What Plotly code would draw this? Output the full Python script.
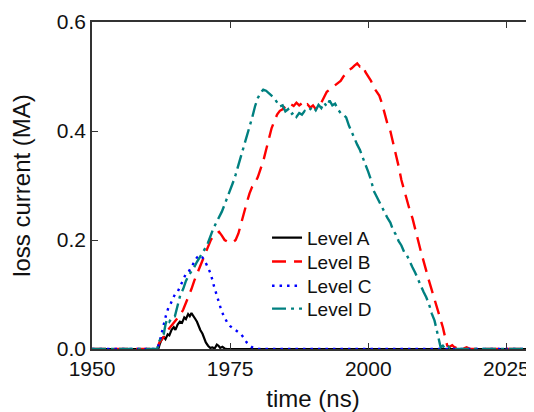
import plotly.graph_objects as go

# ---- data ----
t_a = [1950, 1962, 1962.3, 1962.7, 1963, 1963.3, 1963.7, 1964, 1964.4, 1964.8, 1965.1, 1965.5, 1965.9,
       1966.3, 1966.7, 1967, 1967.4, 1967.7, 1968, 1968.3, 1968.7, 1969, 1969.3, 1969.6, 1970, 1970.3,
       1970.6, 1971, 1971.4, 1971.8, 1972.2, 1972.6, 1972.9, 1973.2, 1973.6, 1974, 1974.4, 2030]
i_a = [0, 0, 0.010, 0.020, 0.022, 0.018, 0.027, 0.025, 0.035, 0.040, 0.035, 0.045, 0.050,
       0.048, 0.058, 0.055, 0.064, 0.060, 0.066, 0.062, 0.055, 0.050, 0.042, 0.035, 0.028, 0.020,
       0.012, 0.006, 0.002, 0.003, 0.001, 0.008, 0.006, 0.002, 0.004, 0.001, 0, 0]

t_b = [1950, 1961.8, 1962.2, 1962.6, 1963, 1963.5, 1964, 1964.5, 1965, 1965.5, 1966, 1966.5, 1967,
       1967.5, 1968, 1968.5, 1969, 1969.5, 1970, 1970.5, 1971, 1971.5, 1972, 1972.5, 1973, 1973.5,
       1974, 1974.5, 1975, 1975.5, 1976, 1976.5, 1977, 1977.5, 1978, 1978.5, 1979, 1979.5, 1980,
       1980.5, 1981, 1981.5, 1982, 1982.5, 1983, 1983.5, 1984, 1984.5, 1985, 1985.5, 1986, 1986.5,
       1987, 1987.5, 1988, 1988.5, 1989, 1989.5, 1990, 1990.5, 1991, 1991.5, 1992, 1992.5, 1993,
       1993.5, 1994, 1994.5, 1995, 1995.5, 1996, 1996.5, 1997, 1997.5, 1998, 1998.5, 1999, 1999.5,
       2000, 2000.5, 2001, 2001.5, 2002, 2002.5, 2003, 2003.5, 2004, 2004.5, 2005, 2005.5, 2006,
       2006.5, 2007, 2007.5, 2008, 2008.5, 2009, 2009.5, 2010, 2010.5, 2011, 2011.5, 2012, 2012.5,
       2013, 2013.5, 2014, 2014.3, 2014.7, 2015.2, 2015.7, 2016.3, 2017, 2017.8, 2018.5, 2030]
i_b = [0, 0, 0.012, 0.018, 0.022, 0.032, 0.038, 0.045, 0.052, 0.058, 0.063, 0.072, 0.085,
       0.095, 0.110, 0.125, 0.138, 0.150, 0.162, 0.175, 0.190, 0.200, 0.208, 0.212, 0.215, 0.208,
       0.200, 0.197, 0.198, 0.196, 0.200, 0.212, 0.232, 0.250, 0.268, 0.285, 0.298, 0.305, 0.315,
       0.330, 0.345, 0.365, 0.385, 0.405, 0.418, 0.430, 0.437, 0.440, 0.445, 0.443, 0.449, 0.446,
       0.452, 0.447, 0.451, 0.445, 0.449, 0.443, 0.447, 0.440, 0.448, 0.452, 0.462, 0.472, 0.476,
       0.480, 0.483, 0.488, 0.492, 0.500, 0.505, 0.512, 0.515, 0.520, 0.524, 0.518, 0.520, 0.508,
       0.500, 0.492, 0.480, 0.472, 0.465, 0.450, 0.430, 0.412, 0.400, 0.380, 0.360, 0.335, 0.310,
       0.290, 0.272, 0.255, 0.240, 0.222, 0.200, 0.180, 0.160, 0.145, 0.125, 0.108, 0.092, 0.075,
       0.060, 0.040, 0.018, 0.006, 0.004, 0.007, 0.002, 0.005, 0.0, 0.003, 0, 0]

t_c = [1950, 1961.8, 1962.2, 1962.6, 1963, 1963.4, 1963.8, 1964.2, 1964.6, 1965, 1965.5, 1966, 1966.5,
       1967, 1967.5, 1968, 1968.5, 1969, 1969.5, 1970, 1970.5, 1971, 1971.5, 1972, 1972.5, 1973,
       1973.5, 1974, 1974.5, 1975, 1975.5, 1976, 1976.5, 1977, 1977.5, 1978, 1978.5, 1979, 1979.5,
       1980, 2030]
i_c = [0, 0, 0.012, 0.030, 0.045, 0.062, 0.075, 0.082, 0.092, 0.100, 0.105, 0.115, 0.128,
       0.138, 0.142, 0.150, 0.160, 0.168, 0.172, 0.168, 0.160, 0.150, 0.138, 0.118, 0.100, 0.085,
       0.068, 0.058, 0.048, 0.042, 0.038, 0.034, 0.030, 0.027, 0.020, 0.012, 0.007, 0.003, 0.001,
       0, 0]

t_d = [1950, 1961.8, 1962.2, 1962.6, 1963, 1963.3, 1963.6, 1964, 1964.5, 1965, 1965.5, 1966, 1966.5,
       1967, 1967.5, 1968, 1968.5, 1969, 1969.5, 1970, 1970.5, 1971, 1971.5, 1972, 1972.5, 1973,
       1973.5, 1974, 1974.5, 1975, 1975.5, 1976, 1976.5, 1977, 1977.5, 1978, 1978.5, 1979, 1979.5,
       1980, 1980.5, 1981, 1981.5, 1982, 1982.5, 1983, 1983.5, 1984, 1984.5, 1985, 1985.5, 1986,
       1986.5, 1987, 1987.5, 1988, 1988.5, 1989, 1989.5, 1990, 1990.5, 1991, 1991.5, 1992, 1992.5,
       1993, 1993.5, 1994, 1994.5, 1995, 1995.5, 1996, 1996.5, 1997, 1997.5, 1998, 1998.5, 1999,
       1999.5, 2000, 2000.5, 2001, 2001.5, 2002, 2002.5, 2003, 2003.5, 2004, 2004.5, 2005, 2005.5,
       2006, 2006.5, 2007, 2007.5, 2008, 2008.5, 2009, 2009.5, 2010, 2010.5, 2011, 2011.5, 2012,
       2012.5, 2012.8, 2013.1, 2013.5, 2014, 2014.5, 2015, 2030]
i_d = [0, 0, 0.015, 0.022, 0.028, 0.045, 0.055, 0.050, 0.058, 0.060, 0.080, 0.100, 0.110,
       0.125, 0.135, 0.142, 0.150, 0.160, 0.168, 0.175, 0.185, 0.195, 0.210, 0.222, 0.232, 0.242,
       0.252, 0.265, 0.278, 0.290, 0.305, 0.320, 0.337, 0.355, 0.373, 0.390, 0.408, 0.425, 0.445,
       0.460, 0.470, 0.476, 0.474, 0.470, 0.465, 0.460, 0.452, 0.445, 0.447, 0.436, 0.440, 0.430,
       0.434, 0.426, 0.433, 0.430, 0.437, 0.435, 0.440, 0.445, 0.438, 0.448, 0.442, 0.452, 0.445,
       0.456, 0.447, 0.450, 0.440, 0.433, 0.430, 0.425, 0.410, 0.398, 0.385, 0.375, 0.365, 0.350,
       0.338, 0.325, 0.310, 0.290, 0.280, 0.270, 0.258, 0.250, 0.240, 0.232, 0.218, 0.210, 0.198,
       0.190, 0.178, 0.172, 0.160, 0.150, 0.140, 0.128, 0.115, 0.105, 0.095, 0.082, 0.065, 0.052,
       0.030, 0.015, 0.003, 0.006, 0.0, 0.004, 0, 0]

names = ["Level A", "Level B", "Level C", "Level D"]
colors = ["#000000", "#ff0000", "#0000ff", "#008080"]
dashes = ["solid", "14px,8px", "2.5px,5px", "14px,5px,3px,5px"]
widths = [2.2, 2.4, 2.4, 2.4]
legend_ids = ["legend", "legend2", "legend3", "legend4"]
legend_y = [0.340, 0.267, 0.193, 0.123]

series = [(t_a, i_a), (t_b, i_b), (t_c, i_c), (t_d, i_d)]

fig = go.Figure()
for (t, i), n, c, d, w, lg in zip(series, names, colors, dashes, widths, legend_ids):
    fig.add_trace(go.Scatter(x=t, y=i, mode="lines", name=n, legend=lg,
                             line=dict(color=c, width=w, dash=d)))

font_family = "Liberation Sans, Arial, sans-serif"
legend_common = dict(x=0.396, xanchor="left", yanchor="middle",
                     bgcolor="rgba(0,0,0,0)", font=dict(size=19, family=font_family),
                     borderwidth=0)
legends = {}
for lg, ly in zip(legend_ids, legend_y):
    legends[lg] = dict(legend_common, y=ly)

fig.update_layout(
    width=526, height=404,
    margin=dict(l=84, r=0, t=14, b=63),
    paper_bgcolor="white", plot_bgcolor="white",
    font=dict(family=font_family, color="#111111"),
    showlegend=True,
    **legends,
    xaxis=dict(range=[1950, 2030], tickmode="array", tickvals=[1950, 1975, 2000, 2025],
               ticks="inside", ticklen=6, tickwidth=1.3, tickcolor="#333",
               showline=True, linecolor="#333", linewidth=1.5, mirror="ticks",
               showgrid=False, zeroline=False,
               tickfont=dict(size=21),
               title=dict(text="time (ns)", font=dict(size=24), standoff=11)),
    yaxis=dict(range=[0, 0.6], tickmode="array", tickvals=[0, 0.2, 0.4, 0.6],
               ticktext=["0.0", "0.2", "0.4", "0.6"],
               ticks="inside", ticklen=6, tickwidth=1.3, tickcolor="#333",
               showline=True, linecolor="#333", linewidth=1.5,
               showgrid=False, zeroline=False,
               tickfont=dict(size=21),
               title=dict(text="loss current (MA)", font=dict(size=24), standoff=20)),
)

fig.write_html("out.html")
